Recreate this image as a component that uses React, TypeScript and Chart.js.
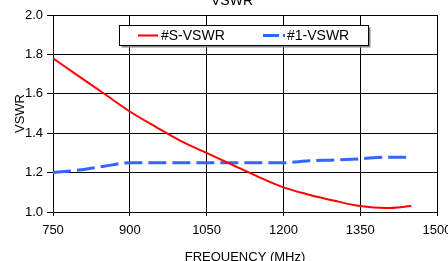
import { useEffect, useRef } from "react";
import { Chart, registerables } from "chart.js";

Chart.register(...registerables);

const frequencies = [750, 800, 850, 900, 950, 1000, 1050, 1100, 1150, 1200, 1250, 1300, 1350, 1400, 1450];
const sVswr = [1.78, 1.69, 1.6, 1.51, 1.433, 1.36, 1.3, 1.24, 1.18, 1.125, 1.088, 1.057, 1.03, 1.02, 1.03];
const oneVswr = [1.2, 1.213, 1.232, 1.25, 1.25, 1.25, 1.25, 1.25, 1.25, 1.25, 1.26, 1.264, 1.27, 1.278, 1.278];
const xTicks = [750, 900, 1050, 1200, 1350, 1500];
const yTicks = [1.0, 1.2, 1.4, 1.6, 1.8, 2.0];
const seriesLabels = ["#S-VSWR", "#1-VSWR"];
const seriesColors = ["#ff0000", "#3366ff"];
const chartTitle = "VSWR";
const xTitle = "FREQUENCY (MHz)";
const yTitle = "VSWR";

const FONT = "Arial, 'Liberation Sans', sans-serif";

const decorPlugin = {
  id: "excelDecor",
  afterDraw(chart: any) {
    const ctx = chart.ctx;
    ctx.save();
    ctx.fillStyle = "#000";
    ctx.font = `14px ${FONT}`;
    ctx.textAlign = "center";
    ctx.textBaseline = "alphabetic";
    ctx.fillText(chartTitle, 232, 5);

    const bx = 119.5, by = 25.5, bw = 249, bh = 20;
    ctx.fillStyle = "#888";
    ctx.fillRect(bx + 2, by + 2, bw, bh);
    ctx.fillStyle = "#fff";
    ctx.fillRect(bx, by, bw, bh);
    ctx.strokeStyle = "#000";
    ctx.lineWidth = 1;
    ctx.strokeRect(bx, by, bw, bh);

    const ly = 35.5;
    ctx.strokeStyle = seriesColors[0];
    ctx.lineWidth = 2;
    ctx.setLineDash([]);
    ctx.beginPath();
    ctx.moveTo(138, ly);
    ctx.lineTo(158, ly);
    ctx.stroke();

    ctx.strokeStyle = seriesColors[1];
    ctx.lineWidth = 3;
    ctx.setLineDash([16, 4]);
    ctx.beginPath();
    ctx.moveTo(263, ly);
    ctx.lineTo(285, ly);
    ctx.stroke();
    ctx.setLineDash([]);

    ctx.fillStyle = "#000";
    ctx.font = `14px ${FONT}`;
    ctx.textAlign = "left";
    ctx.textBaseline = "middle";
    ctx.fillText(seriesLabels[0], 161, ly + 0.5);
    ctx.fillText(seriesLabels[1], 287, ly + 0.5);
    ctx.restore();
  },
};

export default function App() {
  const ref = useRef<HTMLCanvasElement>(null);

  useEffect(() => {
    if (!ref.current) return;
    const chart = new Chart(ref.current, {
      type: "line",
      data: {
        datasets: [
          {
            label: seriesLabels[0],
            data: frequencies.map((f, i) => ({ x: f, y: sVswr[i] })),
            borderColor: seriesColors[0],
            backgroundColor: seriesColors[0],
            borderWidth: 2,
            pointRadius: 0,
            cubicInterpolationMode: "monotone",
            fill: false,
          },
          {
            label: seriesLabels[1],
            data: frequencies.map((f, i) => ({ x: f, y: oneVswr[i] })),
            borderColor: seriesColors[1],
            backgroundColor: seriesColors[1],
            borderWidth: 3,
            borderDash: [18, 6],
            pointRadius: 0,
            cubicInterpolationMode: "monotone",
            fill: false,
          },
        ],
      },
      options: {
        animation: false,
        responsive: false,
        devicePixelRatio: 1,
        layout: { padding: { top: 15, right: 11, left: 0, bottom: 0 } },
        plugins: {
          legend: { display: false },
          title: { display: false },
          tooltip: { enabled: false },
        },
        scales: {
          x: {
            type: "linear",
            min: 750,
            max: 1500,
            afterBuildTicks: (s: any) => {
              s.ticks = xTicks.map((v) => ({ value: v }));
            },
            afterFit: (s: any) => {
              s.height = 49;
              s.paddingLeft = 0;
              s.paddingRight = 0;
            },
            ticks: {
              color: "#000",
              font: { family: FONT, size: 13 },
              padding: 7,
              maxRotation: 0,
              autoSkip: false,
              callback: (v: any) => String(v),
            },
            grid: { color: "#000", lineWidth: 1, tickLength: 4, drawTicks: true },
            border: { color: "#000", width: 1 },
            title: {
              display: true,
              text: xTitle,
              color: "#000",
              font: { family: FONT, size: 13 },
              padding: { top: 0, bottom: -4 },
            },
          },
          y: {
            type: "linear",
            min: 1.0,
            max: 2.0,
            afterBuildTicks: (s: any) => {
              s.ticks = yTicks.map((v) => ({ value: v }));
            },
            afterFit: (s: any) => {
              s.width = 53;
              s.paddingTop = 0;
              s.paddingBottom = 0;
            },
            ticks: {
              color: "#000",
              font: { family: FONT, size: 13 },
              padding: 4,
              callback: (v: any) => Number(v).toFixed(1),
            },
            grid: { color: "#000", lineWidth: 1, tickLength: 6, drawTicks: true },
            border: { color: "#000", width: 1 },
            title: {
              display: true,
              text: yTitle,
              color: "#000",
              font: { family: FONT, size: 13 },
              padding: { top: 13, bottom: 0 },
            },
          },
        },
      },
      plugins: [decorPlugin],
    });
    return () => chart.destroy();
  }, []);

  return (
    <div style={{ position: "fixed", left: 0, top: 0, width: 448, height: 261, background: "#fff" }}>
      <canvas ref={ref} width={448} height={261} style={{ display: "block" }} />
    </div>
  );
}
